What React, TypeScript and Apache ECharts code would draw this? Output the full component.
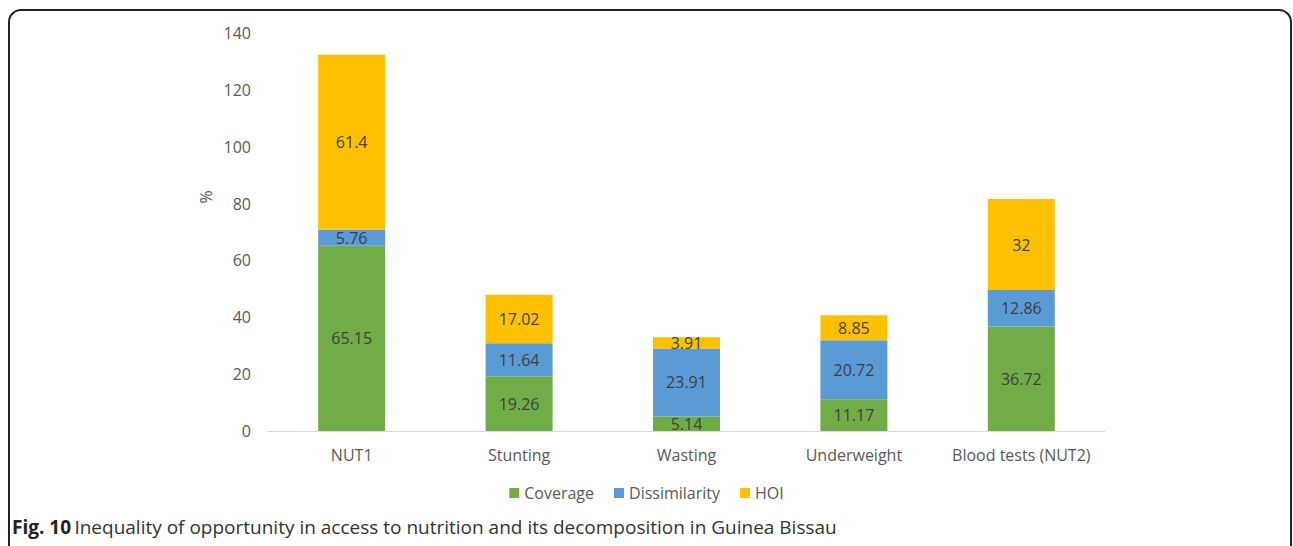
import React, { useEffect, useRef } from "react";
import * as echarts from "echarts";

const categories = ["NUT1", "Stunting", "Wasting", "Underweight", "Blood tests (NUT2)"];
const coverage = [65.15, 19.26, 5.14, 11.17, 36.72];
const dissimilarity = [5.76, 11.64, 23.91, 20.72, 12.86];
const hoi = [61.4, 17.02, 3.91, 8.85, 32];
const seriesNames = ["Coverage", "Dissimilarity", "HOI"];
const colors = ["#70AD47", "#5B9BD5", "#FFC000"];

const FONT = "'Open Sans', 'Noto Sans', sans-serif";

export default function App() {
  const ref = useRef<HTMLDivElement>(null);
  useEffect(() => {
    if (!ref.current) return;
    const chart = echarts.init(ref.current, undefined, { renderer: "svg" });
    const values = [coverage, dissimilarity, hoi];
    chart.setOption({
      animation: false,
      textStyle: { fontFamily: FONT },
      grid: { left: 268, right: 188, top: 33, bottom: 115 },
      xAxis: {
        type: "category",
        data: categories,
        axisLine: { lineStyle: { color: "#D9D9D9", width: 1 } },
        axisTick: { show: false },
        axisLabel: { color: "#595959", fontSize: 16, margin: 16, interval: 0, fontFamily: FONT },
      },
      yAxis: {
        type: "value",
        min: 0,
        max: 140,
        interval: 20,
        splitLine: { show: false },
        axisLine: { show: false },
        axisTick: { show: false },
        axisLabel: { color: "#595959", fontSize: 16, margin: 17, fontFamily: FONT },
      },
      legend: {
        bottom: 40,
        left: "center",
        itemWidth: 10,
        itemHeight: 10,
        itemGap: 20,
        icon: "rect",
        textStyle: { color: "#595959", fontSize: 16, fontFamily: FONT },
        data: seriesNames,
      },
      series: seriesNames.map((name, i) => ({
        name,
        type: "bar",
        stack: "total",
        barWidth: 67,
        data: values[i],
        itemStyle: { color: colors[i] },
        label: {
          show: true,
          position: "inside",
          color: "#404040",
          fontSize: 16,
          fontFamily: FONT,
        },
      })),
      graphic: [
        {
          type: "rect",
          shape: { x: 9, y: 10, width: 1282, height: 600, r: 12 },
          style: { fill: "none", stroke: "#222", lineWidth: 2 },
          silent: true,
        },
        {
          type: "text",
          x: 206,
          y: 197,
          rotation: Math.PI / 2,
          style: {
            text: "%",
            fill: "#595959",
            fontSize: 16,
            fontFamily: FONT,
            align: "center",
            verticalAlign: "middle",
          },
        },
        {
          type: "text",
          x: 12,
          y: 527,
          style: {
            text: "{b|Fig. 10} {n|Inequality of opportunity in access to nutrition and its decomposition in Guinea Bissau}",
            verticalAlign: "middle",
            rich: {
              b: { fontWeight: "bold", fontSize: 19, fill: "#222", fontFamily: FONT },
              n: { fontSize: 19, fill: "#333", fontFamily: FONT },
            },
          },
        },
      ],
    });
    return () => chart.dispose();
  }, []);
  return (
    <div
      ref={ref}
      style={{ position: "absolute", left: 0, top: 0, width: 1293, height: 546, background: "#fff" }}
    />
  );
}
